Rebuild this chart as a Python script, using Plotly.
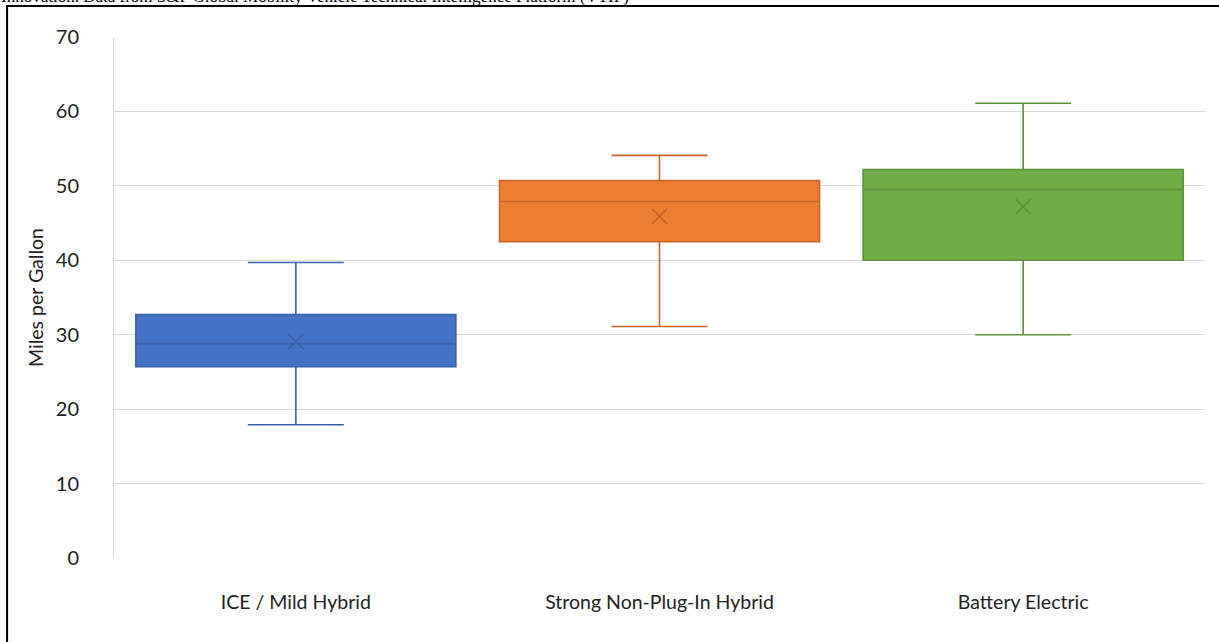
import plotly.graph_objects as go

categories = ["ICE / Mild Hybrid", "Strong Non-Plug-In Hybrid", "Battery Electric"]
lower_whisker = [17.9, 31.1, 30.0]
q1 = [25.7, 42.5, 40.0]
median = [28.8, 47.9, 49.5]
q3 = [32.7, 50.7, 52.2]
upper_whisker = [39.7, 54.1, 61.1]
mean = [29.1, 45.9, 47.2]

fill_colors = ["#4472C4", "#ED7D31", "#70AD47"]
line_colors = ["#3A62AB", "#C8652A", "#5E9139"]

y_ticks = [0, 10, 20, 30, 40, 50, 60, 70]
source_text = "Innovation. Data from S&P Global Mobility Vehicle Technical Intelligence Platform (VTIP)"

fig = go.Figure()
for i, cat in enumerate(categories):
    fig.add_trace(go.Box(
        x=[cat], q1=[q1[i]], median=[median[i]], q3=[q3[i]],
        lowerfence=[lower_whisker[i]], upperfence=[upper_whisker[i]],
        fillcolor=fill_colors[i], line=dict(color=line_colors[i], width=1.6),
        width=0.88, whiskerwidth=0.3, boxpoints=False, showlegend=False,
    ))
    fig.add_trace(go.Scatter(
        x=[cat], y=[mean[i]], mode="markers", showlegend=False,
        marker=dict(symbol="x-thin", size=15, line=dict(color=line_colors[i], width=1.6)),
    ))

fig.update_layout(
    width=1219, height=642,
    margin=dict(l=114, r=14, t=37, b=84),
    paper_bgcolor="white", plot_bgcolor="white",
    font=dict(family="Lato, Open Sans, sans-serif", color="#222"),
    boxmode="overlay",
)
fig.update_yaxes(
    range=[0, 70], tickvals=y_ticks, showgrid=True, gridcolor="#D9D9D9", gridwidth=1,
    zeroline=False, showline=True, linecolor="#D9D9D9", linewidth=1,
    tickfont=dict(size=20, color="#222"), ticklabelstandoff=30,
    title=dict(text="Miles per Gallon", font=dict(size=19.5, color="#222"), standoff=6),
)
fig.update_xaxes(
    range=[-0.5, 2.5], showgrid=False, zeroline=False, showline=False,
    tickfont=dict(size=19.5, color="#222"), ticklabelstandoff=30,
)
# outer frame
fig.add_shape(type="rect", xref="paper", yref="paper",
              x0=-0.098, x1=1.03, y0=-0.2, y1=1.0596,
              line=dict(color="black", width=2), fillcolor="rgba(0,0,0,0)", layer="above")
fig.add_annotation(text=source_text, xref="paper", yref="paper", x=-0.105, y=1.077,
                   xanchor="left", yanchor="middle", showarrow=False,
                   font=dict(family="Liberation Serif, serif", size=17, color="black"))

fig.write_html("out.html", config={"displayModeBar": False},
               post_script="document.body.style.margin='0';document.body.style.overflow='hidden';")
